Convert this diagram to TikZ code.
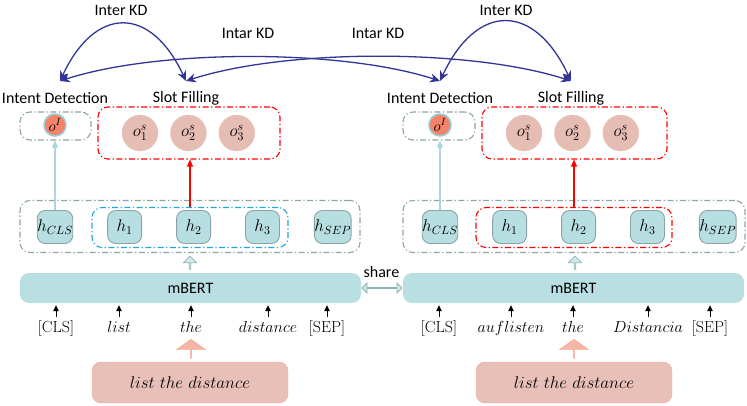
\documentclass[tikz,border=0pt]{standalone}
\usepackage{fix-cm}
\usepackage{fontspec}
\newfontfamily\calibri{Carlito}
\usetikzlibrary{arrows.meta, positioning, shapes.arrows, calc}

\definecolor{dgray}{HTML}{8FA5A6}
\definecolor{dblue}{HTML}{22A6DC}
\definecolor{hfill}{HTML}{B7DEE1}
\definecolor{hborder}{HTML}{8DA3A3}
\definecolor{bertfill}{HTML}{B9DFE2}
\definecolor{ofill}{HTML}{E6BDB3}
\definecolor{oborder}{HTML}{EBC9C1}
\definecolor{ifill}{HTML}{F4836A}
\definecolor{iborder}{HTML}{9ACFD6}
\definecolor{infill}{HTML}{E8C0B7}
\definecolor{inborder}{HTML}{E2B0A3}
\definecolor{bigfill}{HTML}{F7B6A5}
\definecolor{bigborder}{HTML}{F1A38F}
\definecolor{kdblue}{HTML}{303596}
\definecolor{lblue}{HTML}{A8D8DC}
\definecolor{upfill}{HTML}{D3EAEC}
\definecolor{upborder}{HTML}{8EB3B5}

\begin{document}
\begin{tikzpicture}[
    x=1pt, y=-1pt,
    font=\calibri\fontsize{16}{19}\selectfont,
    dashbox/.style={rounded corners=10pt, line width=1.1pt,
      dash pattern=on 6pt off 2.5pt on 1.3pt off 2.5pt},
    graybox/.style={dashbox, draw=dgray},
    redbox/.style={dashbox, draw=red},
    bluebox/.style={dashbox, draw=dblue},
    hnode/.style={draw=hborder, fill=hfill, rounded corners=8pt, line width=0.9pt,
      minimum width=34pt, minimum height=33pt, inner sep=0pt,
      font=\fontsize{17}{20}\selectfont},
    onode/.style={circle, fill=ofill, draw=oborder, minimum size=36pt, inner sep=0pt,
      font=\fontsize{17}{20}\selectfont},
    inode/.style={circle, fill=ifill, draw=iborder, line width=1.6pt, minimum size=22pt,
      inner sep=0pt, font=\fontsize{15}{18}\selectfont},
    bert/.style={fill=bertfill, rounded corners=9pt, minimum width=341pt, minimum height=30pt},
    inbox/.style={fill=infill, draw=inborder, rounded corners=9pt, minimum width=196pt,
      minimum height=41pt, font=\fontsize{17}{20}\selectfont},
    tok/.style={anchor=base, inner sep=1pt, text height=12pt, text depth=4pt,
      font=\rmfamily\fontsize{16}{19}\selectfont},
    tokarrow/.style={-{Triangle[length=6pt,width=5.5pt]}, line width=0.9pt,
      shorten <=2pt, shorten >=2pt},
    kd/.style={draw=kdblue, line width=1.3pt,
      arrows={Stealth[length=10pt,width=9pt]-Stealth[length=10pt,width=9pt]}},
    lbarrow/.style={draw=lblue, line width=1.3pt, -{Triangle[length=7pt,width=6pt]}},
    redarrow/.style={draw=red, line width=1.3pt, -{Triangle[length=7pt,width=6pt]}},
    uparrow/.style={single arrow, shape border rotate=90, draw=upborder, fill=upfill,
      line width=0.8pt, minimum width=13pt, minimum height=13pt, inner sep=0pt,
      single arrow head extend=3.5pt},
    bigarrow/.style={single arrow, shape border rotate=90, draw=bigborder, fill=bigfill,
      minimum width=29pt, minimum height=19pt, inner sep=0pt,
      single arrow head extend=7pt, single arrow tip angle=110},
  ]
  \useasboundingbox (0,0) rectangle (747,406);

  % Labels
  \node (interL) at (121,10) {Inter KD};
  \node (interR) at (506,10) {Inter KD};
  \node (intarA) at (248,33) {Intar KD};
  \node (intarB) at (378,33) {Intar KD};
  \node (idlblL) at (55,98) {Intent Detection};
  \node (sflblL) at (186,98) {Slot Filling};
  \node (idlblR) at (440,98) {Intent Detection};
  \node (sflblR) at (571,98) {Slot Filling};

  % KD targets
  \coordinate (kdIDL) at (60,81);
  \coordinate (kdSFL) at (186,81);
  \coordinate (kdIDR) at (440,81);
  \coordinate (kdSFR) at (571,81);

  % Left: outputs
  \node[graybox, minimum width=71pt, minimum height=28pt] (idboxL) at (55.5,126) {};
  \node[inode] (oIL) at (55,125) {$o^I$};
  \node[redbox, minimum width=182pt, minimum height=52pt] (sfboxL) at (189,133) {};
  \node[onode] (o1L) at (140,133) {$o_1^s$};
  \node[onode, right=12pt of o1L] (o2L) {$o_2^s$};
  \node[onode, right=12pt of o2L] (o3L) {$o_3^s$};

  % Left: hidden states
  \node[graybox, minimum width=340pt, minimum height=52pt] (outerL) at (190,226.5) {};
  \node[bluebox, minimum width=196pt, minimum height=40pt] (innerL) at (190,227.5) {};
  \node[hnode] (hclsL) at (55,227) {$h_{CLS}$};
  \node[hnode, right=34pt of hclsL] (h1L) {$h_1$};
  \node[hnode, right=34pt of h1L] (h2L) {$h_2$};
  \node[hnode, right=34pt of h2L] (h3L) {$h_3$};
  \node[hnode, right=34pt of h3L] (hsepL) {$h_{SEP}$};
  \node[uparrow] (upL) at (190,263) {};

  % Left: encoder and input
  \node[bert] (bertL) at (190.5,288) {mBERT};
  \node[tok] (t1L) at (56,332) {[CLS]};
  \node[tok] (t2L) at (119,332) {$list$};
  \node[tok] (t3L) at (191,332) {$the$};
  \node[tok] (t4L) at (268,332) {$distance$};
  \node[tok] (t5L) at (327,332) {[SEP]};
  \node[bigarrow] (bigL) at (191,349) {};
  \node[inbox] (inL) at (190,382.5) {$list\ the\ distance$};

  % Right: outputs
  \node[graybox, minimum width=72pt, minimum height=28pt] (idboxR) at (439,126) {};
  \node[inode] (oIR) at (440,125) {$o^I$};
  \node[redbox, minimum width=185pt, minimum height=52pt] (sfboxR) at (574.5,133) {};
  \node[onode] (o1R) at (524,133) {$o_1^s$};
  \node[onode, right=12pt of o1R] (o2R) {$o_2^s$};
  \node[onode, right=12pt of o2R] (o3R) {$o_3^s$};

  % Right: hidden states
  \node[graybox, minimum width=342pt, minimum height=52pt] (outerR) at (574,226.5) {};
  \node[redbox, minimum width=196pt, minimum height=40pt] (innerR) at (574,227.5) {};
  \node[hnode] (hclsR) at (440,227) {$h_{CLS}$};
  \node[hnode, right=34pt of hclsR] (h1R) {$h_1$};
  \node[hnode, right=34pt of h1R] (h2R) {$h_2$};
  \node[hnode, right=34pt of h2R] (h3R) {$h_3$};
  \node[hnode, right=34pt of h3R] (hsepR) {$h_{SEP}$};
  \node[uparrow] (upR) at (575,263) {};

  % Right: encoder and input
  \node[bert] (bertR) at (573.5,288) {mBERT};
  \node[tok] (t1R) at (439,332) {[CLS]};
  \node[tok] (t2R) at (511,332) {$auflisten$};
  \node[tok] (t3R) at (573,332) {$the$};
  \node[tok] (t4R) at (648,332) {$Distancia$};
  \node[tok] (t5R) at (710,332) {[SEP]};
  \node[bigarrow] (bigR) at (574,349) {};
  \node[inbox] (inR) at (574,382.5) {$list\ the\ distance$};

  % Share
  \node (sharelbl) at (381.5,272) {share};
  \node[double arrow, draw=upborder, fill=upfill, line width=0.8pt, inner sep=0pt,
    minimum width=10pt, minimum height=40pt, double arrow head extend=3pt]
    (share) at ($(bertL.east)!0.5!(bertR.west)$) {};

  % Connections
  \draw[lbarrow] (hclsL.north) -- (hclsL.north |- idboxL.south);
  \draw[redarrow] (innerL.north) -- (innerL.north |- sfboxL.south);
  \draw[lbarrow] (hclsR.north) -- (hclsR.north |- idboxR.south);
  \draw[redarrow] (innerR.north) -- (innerR.north |- sfboxR.south);
  \draw[tokarrow] (t1L.north) -- (t1L.north |- bertL.south);
  \draw[tokarrow] (t2L.north) -- (t2L.north |- bertL.south);
  \draw[tokarrow] (t3L.north) -- (t3L.north |- bertL.south);
  \draw[tokarrow] (t4L.north) -- (t4L.north |- bertL.south);
  \draw[tokarrow] (t5L.north) -- (t5L.north |- bertL.south);
  \draw[tokarrow] (t1R.north) -- (t1R.north |- bertR.south);
  \draw[tokarrow] (t2R.north) -- (t2R.north |- bertR.south);
  \draw[tokarrow] (t3R.north) -- (t3R.north |- bertR.south);
  \draw[tokarrow] (t4R.north) -- (t4R.north |- bertR.south);
  \draw[tokarrow] (t5R.north) -- (t5R.north |- bertR.south);

  % KD
  \draw[kd] (kdIDL) to[out=65, in=115, looseness=1.7] (kdSFL);
  \draw[kd] (kdIDR) to[out=65, in=115, looseness=1.7] (kdSFR);
  \draw[kd] (kdIDL) to[out=18, in=162, looseness=0.7] (kdIDR);
  \draw[kd] (kdSFL) to[out=18, in=162, looseness=0.7] (kdSFR);
\end{tikzpicture}
\end{document}
